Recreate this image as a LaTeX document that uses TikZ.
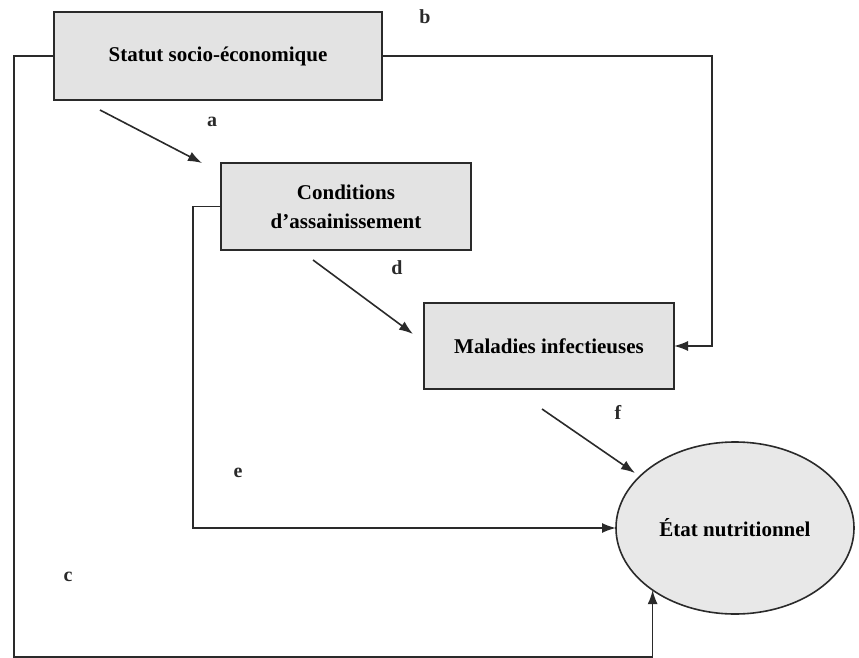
\documentclass[tikz,border=0pt]{standalone}
\usepackage{fontspec}
\setmainfont{Liberation Serif}
\usetikzlibrary{arrows.meta,shapes.geometric}
\definecolor{boxfill}{HTML}{E3E3E3}
\definecolor{ovalfill}{HTML}{E8E8E8}
\definecolor{ink}{HTML}{2A2A2A}
\begin{document}
\begin{tikzpicture}[x=1pt,y=-1pt,
  every node/.style={outer sep=0pt},
  factor/.style={draw=ink, line width=1.6pt, fill=boxfill, rectangle, align=center,
    font=\fontsize{21}{29}\selectfont\bfseries},
  outcome/.style={draw=ink, line width=1.6pt, fill=ovalfill, ellipse,
    font=\fontsize{21}{25}\selectfont\bfseries, inner sep=0pt},
  lbl/.style={font=\fontsize{20}{22}\selectfont\bfseries, text=ink},
  arr/.style={draw=ink, line width=1.6pt, -{Latex[length=14pt,width=10pt]}}
]
\useasboundingbox (0,0) rectangle (859,658);

% boxes
\node[factor, minimum width=328pt, minimum height=88pt] (stat) at (218,56) {Statut socio-économique};
\node[factor, minimum width=250pt, minimum height=87pt] (cond) at (346,206.5) {Conditions\\d’assainissement};
\node[factor, minimum width=250pt, minimum height=86pt] (mal) at (549,346) {Maladies infectieuses};
\node[outcome, minimum width=238pt, minimum height=172pt] (etat) at (735,528) {État nutritionnel};

% path labels
\node[lbl] (la) at (212,122) {a};
\node[lbl] (lb) at (425,17) {b};
\node[lbl] (lc) at (68,577) {c};
\node[lbl] (ld) at (397,268) {d};
\node[lbl] (le) at (238,473) {e};
\node[lbl] (lf) at (618,412) {f};

% free ends of the diagonal arrows
\coordinate (a1) at (100,110);
\coordinate (a2) at (202,163);
\coordinate (d1) at (313,260);
\coordinate (d2) at (413,334);
\coordinate (f1) at (542,409);
\coordinate (f2) at (635,473);

% corners of the elbow connectors
\coordinate (bcorner) at (712,56);
\coordinate (ecorner) at (193,206.5);
\coordinate (cleft) at (14,657);

% a, d, f
\draw[arr] (a1) -- (a2);
\draw[arr] (d1) -- (d2);
\draw[arr] (f1) -- (f2);

% b
\draw[arr] (stat.east) -- (bcorner) |- (mal.east);

% e
\draw[arr] (cond.west) -- (ecorner) |- (etat.west);

% c
\draw[arr] (stat.west) -| (cleft) -| (etat.217);
\end{tikzpicture}
\end{document}
